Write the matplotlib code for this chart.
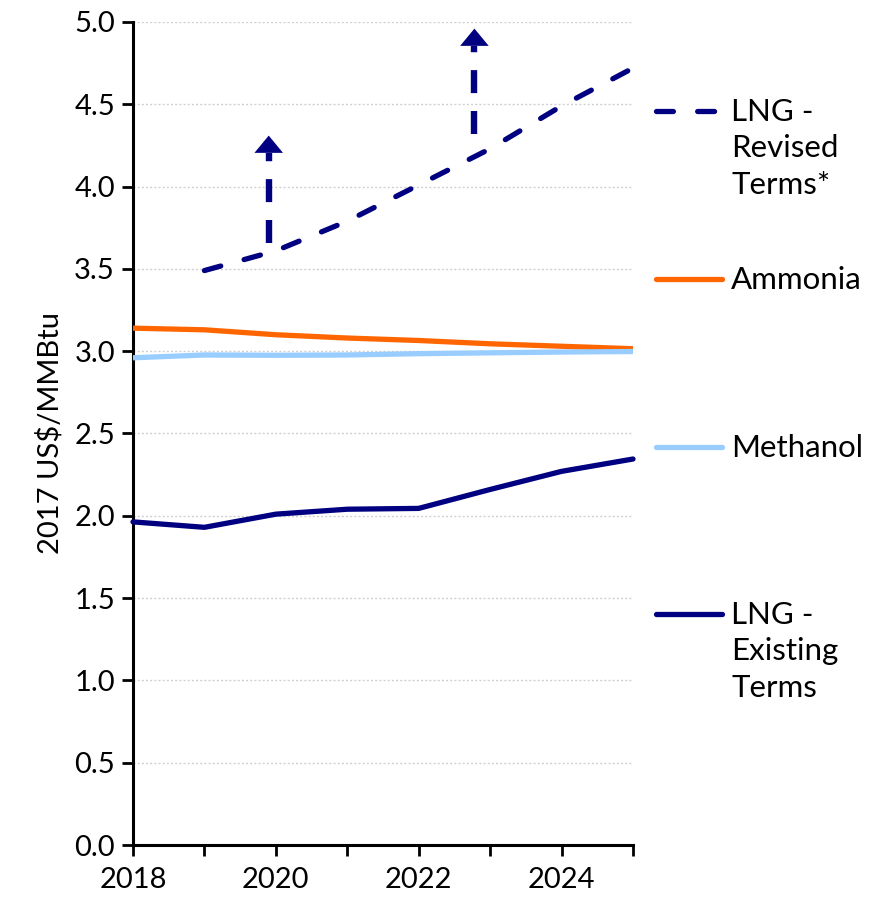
import matplotlib
matplotlib.use("Agg")
import matplotlib.pyplot as plt
from matplotlib.lines import Line2D

plt.rcParams['font.family'] = ['Lato', 'DejaVu Sans']

years = [2018, 2019, 2020, 2021, 2022, 2023, 2024, 2025]
lng_revised_years = [2019, 2020, 2021, 2022, 2023, 2024, 2025]
lng_revised = [3.49, 3.61, 3.79, 4.01, 4.23, 4.49, 4.72]
ammonia = [3.14, 3.13, 3.10, 3.08, 3.065, 3.045, 3.03, 3.015]
methanol = [2.96, 2.977, 2.975, 2.977, 2.985, 2.99, 2.995, 2.998]
lng_existing = [1.963, 1.93, 2.01, 2.04, 2.045, 2.16, 2.27, 2.345]

# upward arrows: x position, base value, tip value
arrow_x = [2019.9, 2022.78]
arrow_base = [3.66, 4.32]
arrow_tip = [4.31, 4.96]

labels = ["LNG -\nRevised\nTerms*", "Ammonia", "Methanol", "LNG -\nExisting\nTerms"]
navy = "#000080"
orange = "#FF6600"
lightblue = "#99CCFF"

fig = plt.figure(figsize=(8.81, 9.0), dpi=100)
ax = fig.add_axes([133/881, 1-845/900, 500/881, 823/900])

ax.set_xlim(2018, 2025)
ax.set_ylim(0, 5)
ax.set_yticks([i*0.5 for i in range(11)])
ax.set_yticklabels([f"{i*0.5:.1f}" for i in range(11)])
ax.set_xticks(years)
ax.set_xticklabels([str(y) if y % 2 == 0 else "" for y in years])
ax.grid(axis='y', color='#d0d0d0', linestyle=(0, (1.5, 1.5)), linewidth=1)
ax.set_axisbelow(True)
for s in ['top', 'right']:
    ax.spines[s].set_visible(False)
for s in ['left', 'bottom']:
    ax.spines[s].set_linewidth(2.2)
    ax.spines[s].set_color('black')
ax.tick_params(axis='both', direction='out', length=8, width=2, labelsize=21, colors='black')
ax.tick_params(axis='x', pad=8)
ax.tick_params(axis='y', pad=5)
ax.set_ylabel("2017 US$/MMBtu", fontsize=21, labelpad=8)

lw = 3.8
ax.plot(years, ammonia, color=orange, lw=lw, solid_capstyle='butt', clip_on=False, zorder=3)
ax.plot(years, methanol, color=lightblue, lw=lw, solid_capstyle='butt', clip_on=False, zorder=3)
ax.plot(years, lng_existing, color=navy, lw=lw, solid_capstyle='round', clip_on=False, zorder=3)
ax.plot(lng_revised_years, lng_revised, color=navy, lw=lw, dashes=(3.2, 4.6),
        dash_capstyle='round', clip_on=False, zorder=3)

for x, b, t in zip(arrow_x, arrow_base, arrow_tip):
    head = 0.105
    ax.plot([x, x], [b, t - head], color=navy, lw=4.6, dashes=(3.6, 2.8),
            dash_capstyle='butt', zorder=4, clip_on=False)
    ax.fill([x - 0.2, x + 0.2, x], [t - head, t - head, t], color=navy,
            zorder=4, clip_on=False, lw=0)

# legend drawn manually at right
leg_y = [111, 279, 447, 614]
styles = [dict(color=navy, dashes=(3.2, 4.6), dash_capstyle='round'),
          dict(color=orange, solid_capstyle='round'),
          dict(color=lightblue, solid_capstyle='round'),
          dict(color=navy, solid_capstyle='round')]
for y, lab, st in zip(leg_y, labels, styles):
    yy = 1 - y/900
    fig.add_artist(Line2D([656/881, 722/881], [yy, yy], lw=lw, **st))
    fig.text(731/881, 1 - (y - 13)/900, lab, fontsize=22.5, va='top', ha='left',
             linespacing=1.36)

fig.savefig("out.png", dpi=100)
